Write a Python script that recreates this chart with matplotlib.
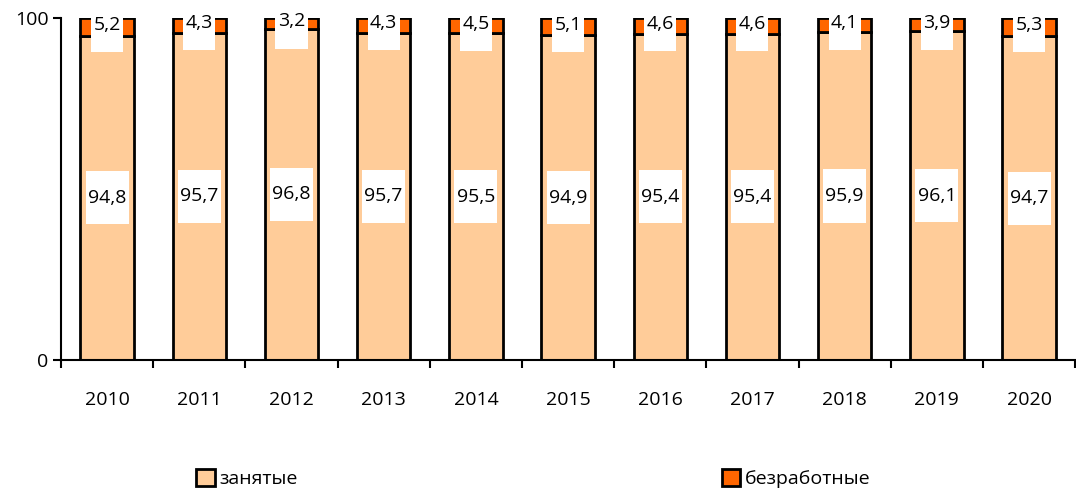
import matplotlib
matplotlib.use("Agg")
import matplotlib.pyplot as plt
import numpy as np
from matplotlib.patches import Patch

years = ["2010", "2011", "2012", "2013", "2014", "2015", "2016", "2017", "2018", "2019", "2020"]
employed = [94.8, 95.7, 96.8, 95.7, 95.5, 94.9, 95.4, 95.4, 95.9, 96.1, 94.7]
unemployed = [5.2, 4.3, 3.2, 4.3, 4.5, 5.1, 4.6, 4.6, 4.1, 3.9, 5.3]
series_names = ["занятые", "безработные"]

plt.rcParams['font.family'] = ['Open Sans', 'DejaVu Sans']
FS = 14

fig = plt.figure(figsize=(10.76, 4.88), dpi=100)
ax = fig.add_axes([0.0567, 0.2623, 0.9425, 0.7008])

x = np.arange(len(years))
w = 0.58
c_emp = "#FFCC99"
c_un = "#FF6600"
ax.bar(x, employed, w, color=c_emp, edgecolor="black", linewidth=2.0, zorder=2)
ax.bar(x, unemployed, w, bottom=employed, color=c_un, edgecolor="black", linewidth=2.0, zorder=2)

def fmt(v):
    return f"{v:.1f}".replace(".", ",")

box = dict(boxstyle="square,pad=0.12", facecolor="white", edgecolor="none")
for i in range(len(years)):
    ax.text(x[i], employed[i] / 2, " \n" + fmt(employed[i]) + "\n ", ha="center", va="center",
            fontsize=FS, bbox=box, zorder=3, linespacing=0.8)
    ax.annotate(fmt(unemployed[i]) + "\n ", xy=(x[i], employed[i] + unemployed[i] / 2),
                xytext=(0, 8), textcoords="offset points", ha="center", va="top",
                fontsize=FS, bbox=box, zorder=3, linespacing=0.85)

ax.set_xlim(-0.5, len(years) - 0.5)
ax.set_ylim(0, 100)
ax.set_yticks([0, 100])
ax.set_yticklabels(["0", "100"], fontsize=FS)
ax.set_xticks(x)
ax.set_xticklabels(years, fontsize=FS)
ax.set_xticks(np.arange(len(years) + 1) - 0.5, minor=True)
ax.tick_params(axis="x", which="major", length=0, pad=22)
ax.tick_params(axis="x", which="minor", length=6, width=1.5, direction="out")
ax.tick_params(axis="y", length=6, width=1.5, direction="out", pad=3)
for s in ["top", "right"]:
    ax.spines[s].set_visible(False)
for s in ["left", "bottom"]:
    ax.spines[s].set_linewidth(1.5)

handles = [Patch(facecolor=c_emp, edgecolor="black", linewidth=2.0),
           Patch(facecolor=c_un, edgecolor="black", linewidth=2.0)]
fig.legend(handles, series_names, loc="center", bbox_to_anchor=(0.496, 0.019), ncol=2,
           frameon=False, fontsize=FS, handlelength=0.95, handleheight=0.95,
           handletextpad=0.25, columnspacing=21.8, borderaxespad=0)

fig.savefig("out.png", dpi=100)
